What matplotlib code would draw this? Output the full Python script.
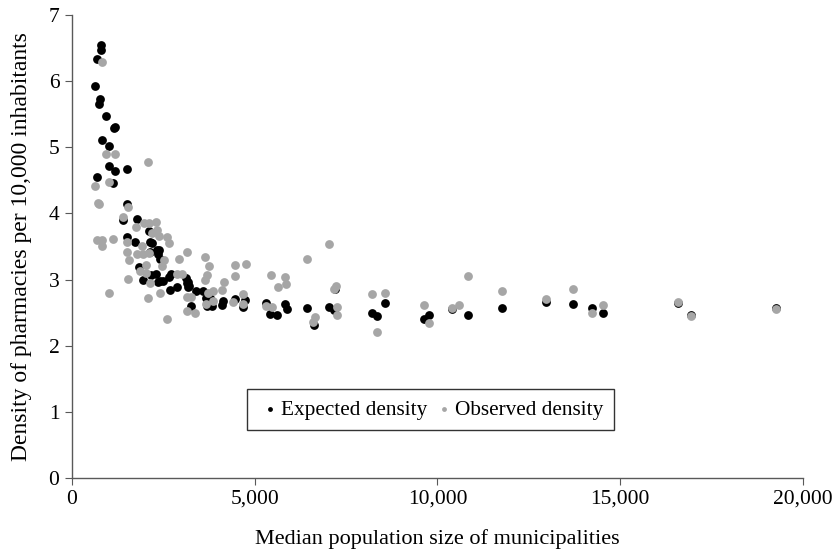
import matplotlib.pyplot as plt
from matplotlib.ticker import FuncFormatter

plt.rcParams['font.family'] = ['Liberation Serif', 'DejaVu Serif']

# expected density (black)
exp_x = [793, 800, 676, 621, 775, 739, 939, 1168, 1150, 812, 1022, 1003, 1186, 1514,
         693, 1113, 1514, 1404, 1787, 2098, 1514, 1733, 2134, 2189, 2389, 2361, 2134,
         2316, 2400, 1842, 1933, 2170, 2298, 2407, 2498, 2645, 2700, 3119, 3156, 3183,
         2864, 2681, 3248, 3393, 3575, 3666, 3685, 3776, 3822, 4122, 4095, 4460, 4733,
         4670, 5308, 5418, 5618, 5828, 5874, 6438, 6621, 7200, 7032, 7168, 8555, 8208,
         8354, 9767, 9631, 10389, 10834, 11765, 12969, 13716, 14227, 14537, 16580,
         16945, 19253, 2361, 3210, 3183]
exp_y = [6.54, 6.47, 6.34, 5.92, 5.73, 5.66, 5.47, 5.31, 5.29, 5.11, 5.02, 4.71, 4.64, 4.67,
         4.55, 4.46, 4.14, 3.90, 3.92, 3.74, 3.65, 3.57, 3.57, 3.55, 3.45, 3.39, 3.41,
         3.44, 3.31, 3.19, 2.99, 3.07, 3.09, 2.98, 2.98, 3.04, 3.08, 3.03, 2.94, 2.89,
         2.88, 2.84, 2.60, 2.82, 2.82, 2.72, 2.60, 2.72, 2.60, 2.67, 2.62, 2.71, 2.69,
         2.58, 2.64, 2.48, 2.46, 2.63, 2.56, 2.57, 2.31, 2.85, 2.59, 2.54, 2.64, 2.50,
         2.45, 2.47, 2.40, 2.55, 2.47, 2.57, 2.66, 2.63, 2.57, 2.50, 2.64,
         2.47, 2.57, 2.97, 2.90, 2.97]

# observed density (grey)
obs_x = [830, 621, 1003, 2079, 922, 1186, 747, 720, 1541, 1386, 1970, 2115, 2298, 1742,
         2189, 2316, 2389, 2590, 675, 821, 821, 1131, 1514, 2645, 1906, 1514, 1787, 1933,
         2115, 1550, 2024, 2525, 2453, 2936, 3138, 3639, 3757, 1860, 2024, 2134, 2864,
         3010, 1541, 1022, 2088, 2407, 2608, 3156, 3248, 3138, 3365, 3721, 3639, 3685,
         4460, 4752, 4469, 5436, 5828, 5628, 5855, 3849, 4159, 4095, 3867, 3666, 4414,
         4670, 4688, 5300, 5463, 6438, 6639, 6603, 7032, 7223, 7168, 7241, 7259, 8208,
         8555, 8354, 9631, 9767, 10389, 10588, 10834, 11765, 12969, 13716, 14227, 14537,
         16580, 16945, 19253]
obs_y = [6.29, 4.42, 4.47, 4.78, 4.90, 4.90, 4.14, 4.16, 4.10, 3.95, 3.85, 3.85, 3.87, 3.80,
         3.71, 3.75, 3.66, 3.65, 3.60, 3.60, 3.50, 3.61, 3.56, 3.55, 3.50, 3.42, 3.39, 3.39,
         3.40, 3.29, 3.22, 3.30, 3.21, 3.31, 3.42, 3.34, 3.20, 3.13, 3.10, 2.94, 3.08,
         3.08, 3.01, 2.79, 2.72, 2.80, 2.41, 2.74, 2.73, 2.53, 2.49, 2.79, 2.99, 3.07,
         3.22, 3.23, 3.06, 3.07, 3.04, 2.88, 2.93, 2.82, 2.96, 2.84, 2.67, 2.63, 2.66,
         2.78, 2.63, 2.60, 2.58, 3.31, 2.43, 2.36, 3.54, 2.90, 2.86, 2.58, 2.46, 2.78,
         2.79, 2.20, 2.62, 2.35, 2.57, 2.62, 3.06, 2.82, 2.71, 2.85, 2.50, 2.61,
         2.66, 2.45, 2.55]

fig = plt.figure(figsize=(8.35, 5.5), dpi=100)
ax = fig.add_axes([0.0862, 0.131, 0.8755, 0.8418])

ax.scatter(exp_x, exp_y, s=40, color='black', linewidths=0, label='Expected density')
ax.scatter(obs_x, obs_y, s=40, color='#a6a6a6', linewidths=0, label='Observed density')

ax.set_xlim(0, 20000)
ax.set_ylim(0, 7)
ax.set_xticks([0, 5000, 10000, 15000, 20000])
ax.set_yticks(range(0, 8))
ax.xaxis.set_major_formatter(FuncFormatter(lambda v, p: f'{int(v):,}'))

for s in ['top', 'right']:
    ax.spines[s].set_visible(False)
for s in ['left', 'bottom']:
    ax.spines[s].set_color('#595959')
    ax.spines[s].set_linewidth(1)
ax.tick_params(direction='out', length=5, color='#595959', labelsize=15.5)
ax.tick_params(axis='y', pad=4)

ax.set_xlabel('Median population size of municipalities', fontsize=16, labelpad=15)
ax.set_ylabel('Density of pharmacies per 10,000 inhabitants', fontsize=17, labelpad=12)

leg = ax.legend(loc='center', bbox_to_anchor=(0.49, 0.147), ncol=2, fontsize=15.3,
                markerscale=0.55, handletextpad=-0.1, columnspacing=0.2,
                handlelength=1.2, borderpad=0.5, frameon=True, fancybox=False)
leg.get_frame().set_edgecolor('black')
leg.get_frame().set_linewidth(1)

plt.savefig('out.png', dpi=100)
